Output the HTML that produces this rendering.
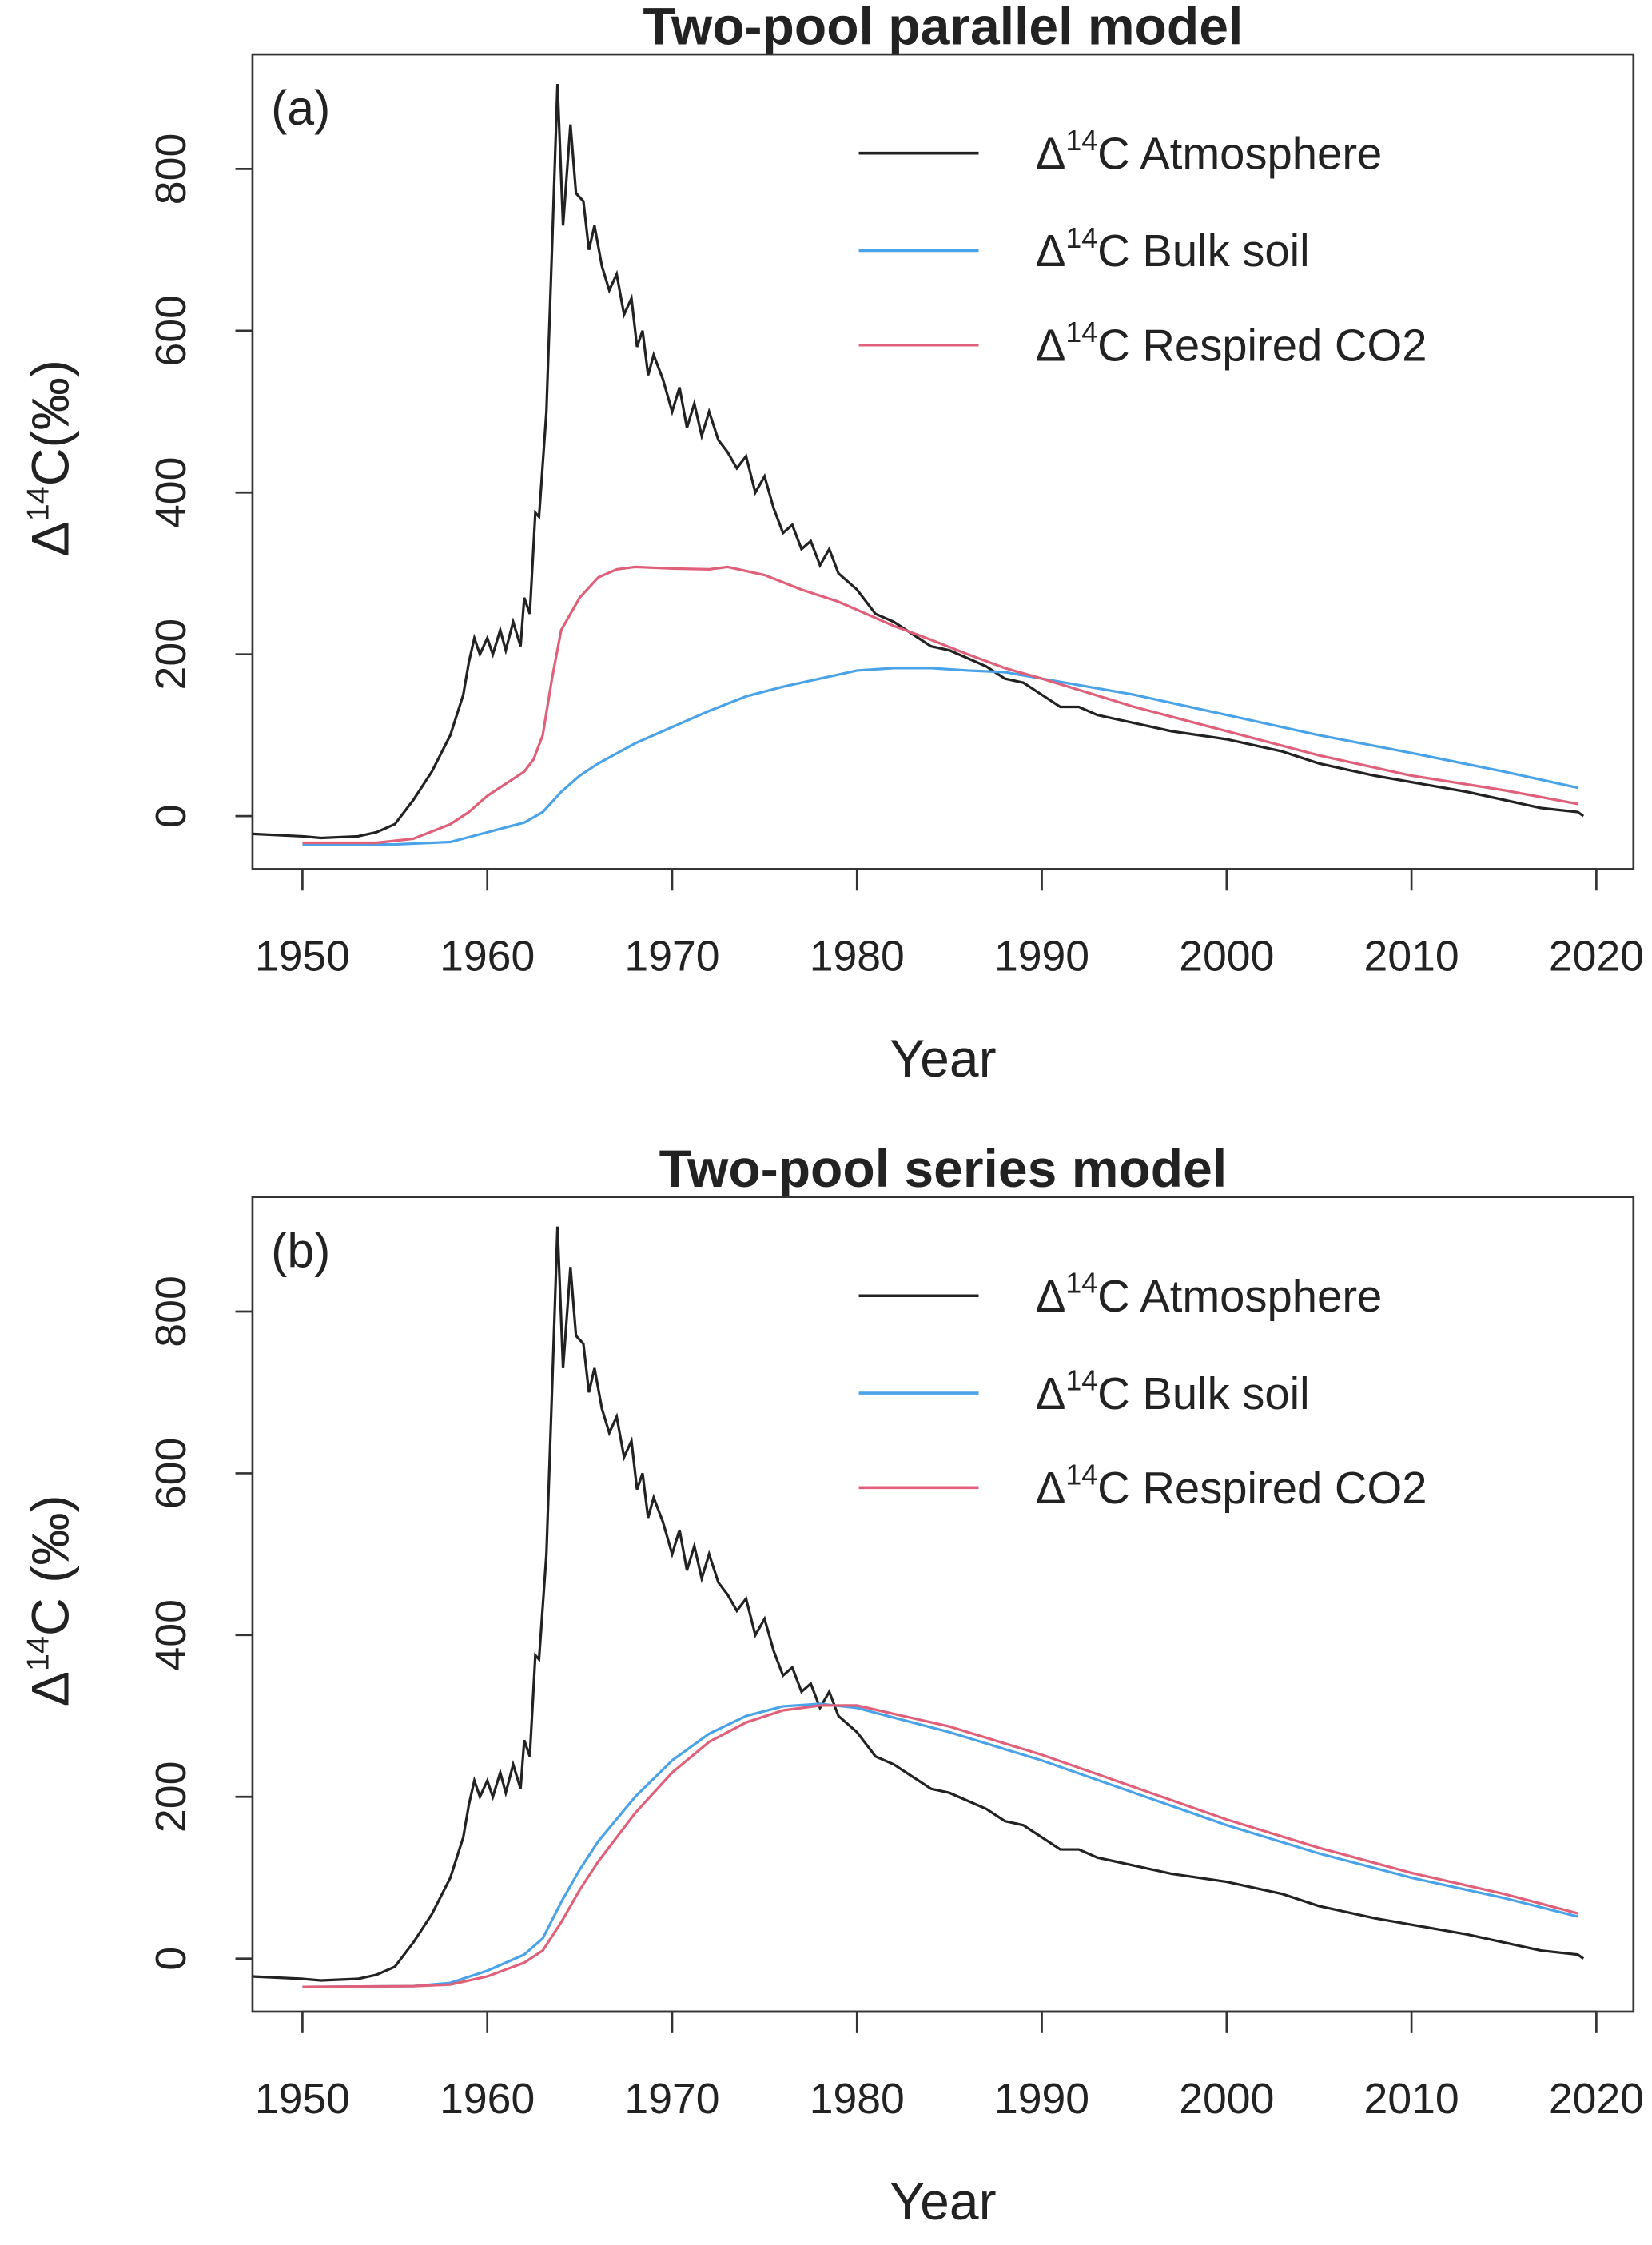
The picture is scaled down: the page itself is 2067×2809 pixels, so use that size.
<!DOCTYPE html>
<html><head><meta charset="utf-8">
<style>html,body{margin:0;padding:0;background:#fff}svg{display:block}text{font-family:"Liberation Sans",sans-serif;fill:#222}</style>
</head><body>
<svg id="fig" width="2067" height="2809" viewBox="0 0 1158 1568" preserveAspectRatio="none" xmlns="http://www.w3.org/2000/svg"></svg>
<script>
const xTicks=[1950,1960,1970,1980,1990,2000,2010,2020];
const yTicks=[0,200,400,600,800];
const atmYears=[1947.3,1950,1951,1953,1954,1955,1956,1957,1958,1958.7,1959,1959.3,1959.6,1960,1960.3,1960.7,1961,1961.4,1961.8,1962,1962.3,1962.6,1962.8,1963.2,1963.5,1963.8,1964.1,1964.5,1964.8,1965.2,1965.5,1965.8,1966.2,1966.6,1967,1967.4,1967.8,1968.1,1968.4,1968.7,1969,1969.5,1970,1970.4,1970.8,1971.2,1971.6,1972,1972.5,1973,1973.5,1974,1974.5,1975,1975.5,1976,1976.5,1977,1977.5,1978,1978.5,1979,1980,1981,1982,1983,1984,1985,1986,1987,1988,1989,1990,1991,1992,1993,1995,1997,2000,2003,2005,2008,2010,2013,2015,2017,2019,2019.3];
const atmValues=[-22,-25,-27,-25,-20,-10,20,55,100,150,190,220,200,220,200,230,205,240,210,270,250,375,370,500,700,905,730,855,770,760,700,730,680,650,670,620,640,580,600,545,570,540,500,530,480,510,470,500,465,450,430,445,400,420,380,350,360,330,340,310,330,300,280,250,240,225,210,205,195,185,170,165,150,135,135,125,115,105,95,80,65,50,42,30,20,10,5,0];
const aSoilYears=[1950,1955,1958,1960,1962,1963,1964,1965,1966,1968,1970,1972,1974,1976,1978,1980,1982,1984,1986,1988,1990,1995,2000,2005,2010,2015,2019];
const aSoilValues=[-35,-35,-32,-20,-8,5,30,50,65,90,110,130,148,160,170,180,183,183,180,178,170,150,125,100,78,55,35];
const aRespYears=[1950,1954,1956,1958,1959,1960,1961,1962,1962.5,1963,1963.5,1964,1965,1966,1967,1968,1970,1972,1973,1975,1977,1979,1980,1982,1984,1986,1988,1990,1995,2000,2005,2010,2015,2019];
const aRespValues=[-33,-33,-28,-10,5,25,40,55,70,100,170,230,270,295,305,308,306,305,308,298,280,265,255,235,218,200,183,170,135,105,75,50,32,15];
const bYears=[1950,1956,1958,1960,1962,1963,1964,1965,1966,1968,1970,1972,1974,1976,1978,1980,1985,1990,1995,2000,2005,2010,2015,2019];
const bSoilValues=[-35,-34,-30,-15,5,25,70,110,145,200,245,278,300,312,315,310,280,245,205,165,130,100,75,52];
const bRespValues=[-35,-34,-32,-22,-5,10,45,85,120,180,230,268,292,307,313,313,287,252,212,172,137,106,80,56];

const NS="http://www.w3.org/2000/svg";
const svg=document.getElementById('fig');
function el(tag,attrs,parent,txt){const e=document.createElementNS(NS,tag);for(const k in attrs)e.setAttribute(k,attrs[k]);if(txt!==undefined)e.textContent=txt;(parent||svg).appendChild(e);return e;}

function panel(off,title,tag,ylab,series,id){
  const L=177,R=1145,T=38+off,B=607+off;
  const xs=y=>212+(y-1950)*(1119-212)/70;
  const ys=v=>570+off-v*(570-118)/800;
  const g=el('g',{});
  
  
  const cp=el('clipPath',{id:'cp'+id},g);el('rect',{x:L,y:T,width:R-L,height:B-T},cp);
  const t=el('text',{x:661,y:31+off,'text-anchor':'middle','font-size':37,'font-weight':'bold'},g,title);
  
  const box=el('rect',{x:L,y:T,width:R-L,height:B-T,fill:'none',stroke:'#333','stroke-width':1.5},g);
  
  const tg=el('text',{x:190,y:87+off,'font-size':34},g,tag);
  
  xTicks.forEach(v=>{const x=xs(v);el('line',{x1:x,x2:x,y1:B,y2:B+15,stroke:'#333','stroke-width':1.5},g);
    const tx=el('text',{x:x,y:678+off,'text-anchor':'middle','font-size':30},g,String(v));
    });
  el('line',{x1:xs(1950),x2:xs(2020),y1:B,y2:B,stroke:'#333','stroke-width':1.5},g);
  yTicks.forEach(v=>{const y=ys(v);el('line',{x1:L,x2:L-12,y1:y,y2:y,stroke:'#333','stroke-width':1.5},g);
    const ty=el('text',{x:130,y:y,'text-anchor':'middle','font-size':30,transform:`rotate(-90 130 ${y})`},g,String(v));
    });
  const xl=el('text',{x:661,y:752+off,'text-anchor':'middle','font-size':37},g,'Year');
  
  const yl=el('text',{x:48,y:320+off,'text-anchor':'middle','font-size':37,transform:`rotate(-90 48 ${320+off})`},g);
  
  el('tspan',{},yl,'Δ');el('tspan',{'font-size':22,dy:-14},yl,'14');el('tspan',{dy:14},yl,ylab);
  const lg=el('g',{},g);
  series.forEach((s,i)=>{
    const p=el('polyline',{points:s.x.map((yr,k)=>xs(yr)+','+ys(s.v[k])).join(' '),fill:'none',stroke:s.c,'stroke-width':1.8,'clip-path':`url(#cp${id})`},g);
    
    const ly=[107,175,241][i]+off;
    el('line',{x1:602,x2:686,y1:ly,y2:ly,stroke:s.c,'stroke-width':2},lg);
    const lt=el('text',{x:726,y:ly+11,'font-size':31.5},lg);
    
    el('tspan',{},lt,'Δ');el('tspan',{'font-size':20,dy:-13},lt,'14');el('tspan',{dy:13},lt,'C '+s.label);
  });
}
panel(0,'Two-pool parallel model','(a)','C(‰)',[
 {x:atmYears,v:atmValues,c:'#222',n:'atmosphere',label:'Atmosphere'},
 {x:aSoilYears,v:aSoilValues,c:'#4aa3e8',n:'bulk-soil',label:'Bulk soil'},
 {x:aRespYears,v:aRespValues,c:'#e0607a',n:'respired-co2',label:'Respired CO2'}],'a');
panel(798,'Two-pool series model','(b)','C (‰)',[
 {x:atmYears,v:atmValues,c:'#222',n:'atmosphere',label:'Atmosphere'},
 {x:bYears,v:bSoilValues,c:'#4aa3e8',n:'bulk-soil',label:'Bulk soil'},
 {x:bYears,v:bRespValues,c:'#e0607a',n:'respired-co2',label:'Respired CO2'}],'b');
</script>
</body></html>
